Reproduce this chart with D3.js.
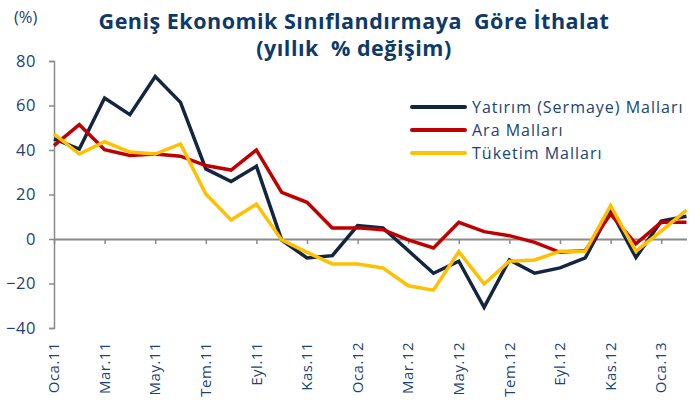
<!DOCTYPE html>
<html>
<head>
<meta charset="UTF-8">
<script src="https://d3js.org/d3.v7.min.js"></script>
<style>
  html, body { margin: 0; padding: 0; background: #fff; }
  svg { display: block; font-family: "Open Sans", sans-serif; }
  .pre { white-space: pre; }
</style>
</head>
<body>
<svg width="700" height="405"></svg>
<script>

  // DATA

  var months = ["Oca.11", "Şub.11", "Mar.11", "Nis.11", "May.11", "Haz.11", "Tem.11", "Ağu.11",
    "Eyl.11", "Eki.11", "Kas.11", "Ara.11", "Oca.12", "Şub.12", "Mar.12", "Nis.12", "May.12",
    "Haz.12", "Tem.12", "Ağu.12", "Eyl.12", "Eki.12", "Kas.12", "Ara.12", "Oca.13", "Şub.13"];

  var yatirim = [45, 40.4, 63.4, 55.9, 73, 61.4, 31.5, 25.8, 32.7, -0.5, -8.5, -7.5, 6, 5,
    -5.2, -15.4, -10, -30.7, -9.4, -15.4, -13, -8.5, 13, -8.3, 8, 10.2];

  var ara = [42, 51.4, 40.1, 37.5, 38.2, 37.2, 33, 31, 40, 21, 16.5, 5, 5, 4.2,
    -0.4, -4, 7.5, 3.3, 1.5, -1.5, -6, -5.2, 11.2, -2.2, 7.5, 7.5];

  var tuketim = [47.2, 38.2, 43.7, 39.1, 38.2, 42.7, 20.2, 8.5, 15.7, -0.4, -6, -11.2, -11.2, -13,
    -21, -23, -5.7, -20.2, -10, -9.4, -5.5, -5.5, 15, -5.5, 3.5, 13];

  var yTicks = [-40, -20, 0, 20, 40, 60, 80];
  var xTickLabels = months.filter(function (d, i) { return i % 2 === 0; });

  var series = [
    { name: "Yatırım (Sermaye) Malları", values: yatirim, color: "#14253f" },
    { name: "Ara Malları", values: ara, color: "#c00000" },
    { name: "Tüketim Malları", values: tuketim, color: "#ffc000" }
  ];

  // SETUP

  var svg = d3.select("svg"),
    textColor = "#1b4373",
    axisColor = "#8a8a8a";

  var x = d3.scalePoint().domain(months).range([54, 686.5]);
  var y = d3.scaleLinear().domain([-40, 80]).range([328, 61]);

  // TITLE

  svg.append("text")
    .attr("class", "pre")
    .attr("x", 354).attr("y", 29)
    .attr("text-anchor", "middle")
    .attr("font-size", 21.5).attr("font-weight", "bold")
    .attr("letter-spacing", 0.5)
    .attr("fill", "#0d3a68")
    .text("Geniş Ekonomik Sınıflandırmaya  Göre İthalat");

  svg.append("text")
    .attr("class", "pre")
    .attr("x", 354).attr("y", 56)
    .attr("text-anchor", "middle")
    .attr("font-size", 21.5).attr("font-weight", "bold")
    .attr("letter-spacing", 0.5)
    .attr("fill", "#0d3a68")
    .text("(yıllık  % değişim)");

  svg.append("text")
    .attr("x", 14).attr("y", 23)
    .attr("font-size", 16.5).attr("fill", textColor)
    .text("(%)");

  // Y AXIS

  var yAxis = svg.append("g")
    .attr("transform", "translate(54,0)")
    .call(d3.axisLeft(y).tickValues(yTicks).tickSize(5).tickPadding(13));

  yAxis.select(".domain").attr("stroke", axisColor).attr("stroke-width", 1.5);
  yAxis.selectAll(".tick line").attr("stroke", axisColor).attr("stroke-width", 1.5);
  yAxis.selectAll(".tick text")
    .attr("fill", textColor)
    .attr("font-size", 16.5)
    .attr("letter-spacing", 0.6)
    .attr("font-family", "Open Sans, sans-serif");

  // X AXIS (at zero)

  var xAxis = svg.append("g")
    .attr("transform", "translate(0," + y(0) + ")")
    .call(d3.axisBottom(x).tickValues(xTickLabels).tickSize(5).tickSizeOuter(0).tickFormat(""));

  xAxis.select(".domain").attr("stroke", axisColor).attr("stroke-width", 2);
  xAxis.selectAll(".tick line").attr("stroke", axisColor).attr("stroke-width", 1.5);

  // month labels at the bottom
  svg.append("g")
    .selectAll("text")
    .data(xTickLabels)
    .enter().append("text")
    .attr("transform", function (d) { return "translate(" + x(d) + ",342) rotate(-90)"; })
    .attr("text-anchor", "end")
    .attr("dy", "0.35em")
    .attr("font-size", 15)
    .attr("letter-spacing", 0.5)
    .attr("fill", textColor)
    .text(function (d) { return d; });

  // LINES

  var line = d3.line()
    .x(function (d, i) { return x(months[i]); })
    .y(function (d) { return y(d); });

  svg.append("g")
    .selectAll("path")
    .data(series)
    .enter().append("path")
    .attr("d", function (d) { return line(d.values); })
    .attr("fill", "none")
    .attr("stroke", function (d) { return d.color; })
    .attr("stroke-width", 3.5)
    .attr("stroke-linejoin", "miter");

  // LEGEND

  var legend = svg.append("g")
    .selectAll("g")
    .data(series)
    .enter().append("g")
    .attr("transform", function (d, i) { return "translate(412," + (107 + i * 23) + ")"; });

  legend.append("line")
    .attr("x1", 0).attr("x2", 53)
    .attr("stroke", function (d) { return d.color; })
    .attr("stroke-width", 4)
    .attr("stroke-linecap", "round");

  legend.append("text")
    .attr("x", 60).attr("dy", "0.35em")
    .attr("font-size", 16)
    .attr("letter-spacing", 1)
    .attr("fill", textColor)
    .text(function (d) { return d.name; });

</script>
</body>
</html>
